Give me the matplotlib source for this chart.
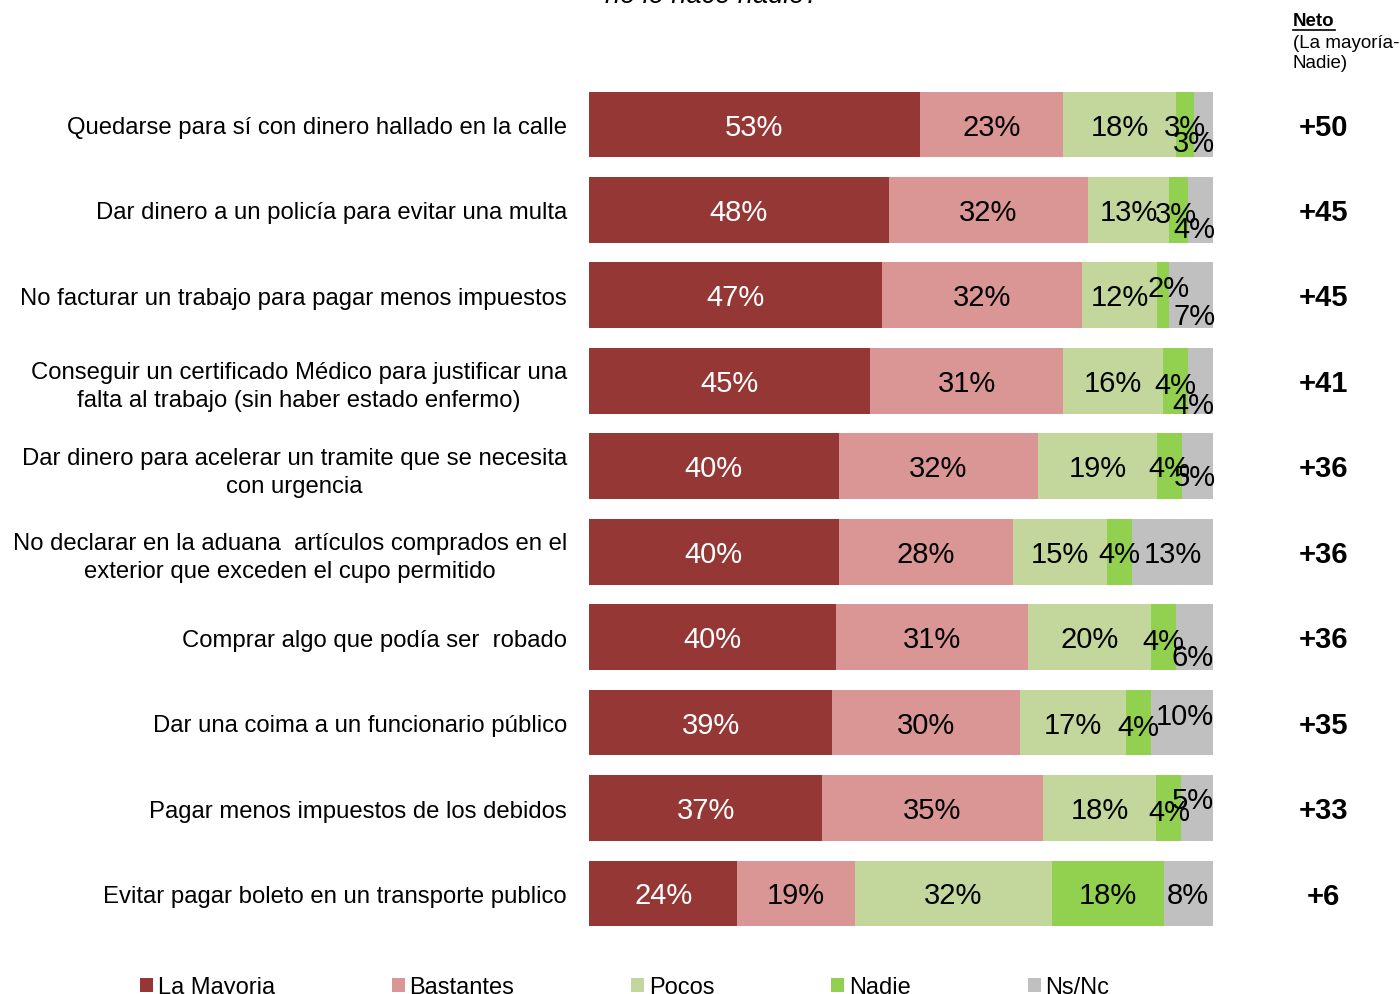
import matplotlib
matplotlib.use('Agg')
import matplotlib.pyplot as plt
from matplotlib.patches import Patch
from matplotlib.lines import Line2D
import matplotlib.transforms as mtransforms
import numpy as np

plt.rcParams['font.family'] = ['Liberation Sans', 'DejaVu Sans']

# data
items = [
    'Quedarse para sí con dinero hallado en la calle',
    'Dar dinero a un policía para evitar una multa',
    'No facturar un trabajo para pagar menos impuestos',
    'Conseguir un certificado Médico para justificar una\nfalta al trabajo (sin haber estado enfermo)',
    'Dar dinero para acelerar un tramite que se necesita\ncon urgencia',
    'No declarar en la aduana  artículos comprados en el\nexterior que exceden el cupo permitido',
    'Comprar algo que podía ser  robado',
    'Dar una coima a un funcionario público',
    'Pagar menos impuestos de los debidos',
    'Evitar pagar boleto en un transporte publico',
]
series = ['La Mayoria', 'Bastantes', 'Pocos', 'Nadie', 'Ns/Nc']
la_mayoria = [53, 48, 47, 45, 40, 40, 40, 39, 37, 24]
bastantes = [23, 32, 32, 31, 32, 28, 31, 30, 35, 19]
pocos = [18, 13, 12, 16, 19, 15, 20, 17, 18, 32]
nadie = [3, 3, 2, 4, 4, 4, 4, 4, 4, 18]
nsnc = [3, 4, 7, 4, 5, 13, 6, 10, 5, 8]

colors = ['#953735', '#D99694', '#C3D69B', '#92D050', '#C0C0C0']
text_colors = ['white', 'black', 'black', 'black', 'black']

# label nudges in pixels (dx, dy down), keyed by (row, segment)
nudges = {
    (0, 4): (-10, 16),
    (1, 3): (-3, 2), (1, 4): (-6, 17),
    (2, 3): (5, -9), (2, 4): (3, 19),
    (3, 3): (0, 2), (3, 4): (-7, 22),
    (4, 4): (-3, 9),
    (6, 3): (0, 2), (6, 4): (-2, 18),
    (7, 3): (0, 2), (7, 4): (3, -9),
    (8, 3): (0, 2), (8, 4): (-4, -10),
}

W, H = 1400, 995
fig = plt.figure(figsize=(14, 9.95), dpi=100)
ax = fig.add_axes([589 / W, 0, (1213 - 589) / W, 1])

vals = np.array([la_mayoria, bastantes, pocos, nadie, nsnc], dtype=float)
totals = vals.sum(axis=0)
shares = vals / totals * 100
y = np.arange(len(items))
row0, step = 125.5, 85.44
ax.set_ylim((H - row0) / step, -row0 / step)
ax.set_xlim(0, 100)

left = np.zeros(len(items))
for k, name in enumerate(series):
    ax.barh(y, shares[k], left=left, height=0.77, color=colors[k], label=name)
    for i in range(len(items)):
        dx, dy = nudges.get((i, k), (0, 0))
        dy += 2
        ax.annotate(f'{int(vals[k, i])}%', (left[i] + shares[k, i] / 2, y[i]),
                    xytext=(dx * 0.72, -dy * 0.72), textcoords='offset points',
                    ha='center', va='center', fontsize=21, color=text_colors[k])
    left += shares[k]

ax.set_yticks(y)
ax.set_yticklabels(items, fontsize=17.2, ha='right', multialignment='center',
                   linespacing=1.35)
ax.tick_params(axis='y', length=0, pad=16)
ax.tick_params(axis='x', bottom=False, labelbottom=False)
for s in ax.spines.values():
    s.set_visible(False)

# neto column
neto = np.array(la_mayoria) - np.array(nadie)
trans = mtransforms.blended_transform_factory(fig.transFigure, ax.transData)
for i, v in enumerate(neto):
    ax.annotate(f'+{v}', (1323 / W, y[i]), xycoords=trans, xytext=(0, -1.5),
                textcoords='offset points', ha='center', va='center',
                fontsize=21, fontweight='bold', annotation_clip=False)

t = fig.text(1293 / W, 1 - 22 / H, 'Neto', fontsize=13.5, fontweight='bold',
             ha='left', va='center')
fig.text(1293 / W, 1 - 43 / H, '(La mayoría-', fontsize=13.5, ha='left', va='center')
fig.text(1293 / W, 1 - 64 / H, 'Nadie)', fontsize=13.5, ha='left', va='center')
fig.canvas.draw()
bb = t.get_window_extent()
fig.add_artist(Line2D([bb.x0 / W, bb.x1 / W], [1 - 31 / H, 1 - 31 / H],
                      transform=fig.transFigure, color='black', lw=1.2))

# title cut off at the top
fig.text(712 / W, 1 - 3 / H, 'no lo hace nadie?', fontsize=19.5, style='italic',
         ha='center', va='baseline')

handles = [Patch(facecolor=c, edgecolor='none') for c in colors]
labels = ['La Mayoria', 'Bastantes', 'Pocos', 'Nadie', 'Ns/Nc']
fig.legend(handles, labels, loc='center left', bbox_to_anchor=(140 / W, 1 - 988 / H),
           ncol=5, frameon=False, fontsize=17, handlelength=0.55, handleheight=0.55,
           handletextpad=0.2, columnspacing=4.95, borderpad=0, borderaxespad=0)

fig.savefig('out.png', dpi=100)
